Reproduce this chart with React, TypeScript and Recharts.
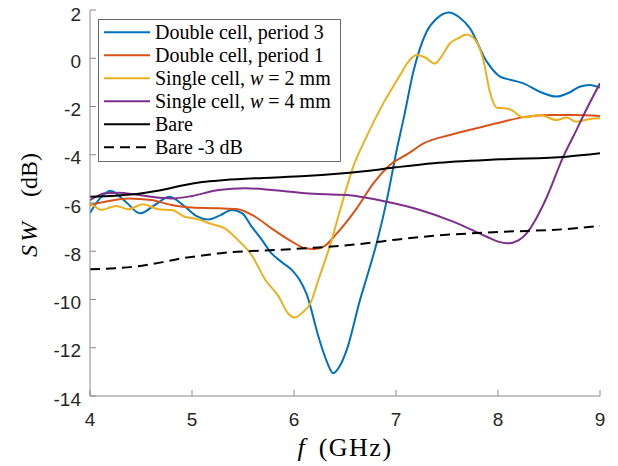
import React from 'react';
import { LineChart, Line, XAxis, YAxis, Legend } from 'recharts';

const xTicks = [4, 5, 6, 7, 8, 9];
const yTicks = [-14, -12, -10, -8, -6, -4, -2, 0, 2];

const fDouble3 = [4.0, 4.1, 4.2, 4.35, 4.49, 4.63, 4.78, 4.93, 5.05, 5.16, 5.28, 5.39, 5.49, 5.585, 5.68, 5.78, 5.88, 5.98, 6.05, 6.12, 6.25, 6.32, 6.385, 6.45, 6.517, 6.647, 6.73, 6.81, 6.91, 7.007, 7.08, 7.17, 7.3, 7.4, 7.52, 7.62, 7.725, 7.89, 8.02, 8.13, 8.25, 8.41, 8.575, 8.7, 8.8, 8.9, 9.0];
const sDouble3 = [-6.41, -5.8, -5.49, -5.95, -6.43, -6.1, -5.74, -6.15, -6.55, -6.68, -6.5, -6.29, -6.42, -6.98, -7.5, -8.09, -8.45, -8.78, -9.15, -9.74, -11.68, -12.55, -13.06, -12.75, -12.09, -10.02, -8.85, -7.67, -5.88, -3.8, -2.4, -0.56, 1.1, 1.65, 1.9, 1.7, 1.24, -0.14, -0.76, -0.9, -1.04, -1.39, -1.59, -1.42, -1.18, -1.11, -1.22];

const fDouble1 = [4.0, 4.15, 4.375, 4.6, 4.8, 5.0, 5.26, 5.45, 5.62, 5.78, 5.98, 6.11, 6.19, 6.29, 6.42, 6.615, 6.78, 6.94, 7.12, 7.27, 7.53, 7.79, 8.05, 8.28, 8.51, 8.75, 9.0];
const sDouble1 = [-6.08, -5.95, -5.81, -5.88, -6.08, -6.19, -6.22, -6.26, -6.57, -7.05, -7.6, -7.88, -7.91, -7.81, -7.26, -6.22, -5.18, -4.42, -3.95, -3.53, -3.18, -2.9, -2.63, -2.42, -2.35, -2.35, -2.39];

const fSingle2 = [4.0, 4.05, 4.11, 4.26, 4.375, 4.52, 4.67, 4.8, 4.93, 5.06, 5.19, 5.32, 5.45, 5.585, 5.72, 5.85, 5.94, 6.01, 6.08, 6.16, 6.25, 6.35, 6.48, 6.58, 6.68, 6.875, 7.04, 7.12, 7.2, 7.29, 7.38, 7.45, 7.53, 7.62, 7.69, 7.75, 7.8, 7.86, 7.92, 7.99, 8.05, 8.12, 8.25, 8.41, 8.575, 8.67, 8.77, 8.9, 9.0];
const sSingle2 = [-6.01, -6.15, -6.29, -6.12, -6.26, -6.05, -6.26, -6.29, -6.57, -6.68, -6.87, -7.05, -7.53, -8.16, -9.19, -9.88, -10.57, -10.75, -10.55, -10.16, -9.05, -7.81, -5.88, -4.5, -3.53, -1.87, -0.7, -0.15, 0.13, 0.02, -0.22, 0.1, 0.62, 0.85, 0.98, 0.88, 0.6, -0.14, -1.39, -2.05, -2.07, -2.12, -2.45, -2.35, -2.56, -2.46, -2.63, -2.52, -2.49];

const fSingle4 = [4.0, 4.15, 4.28, 4.45, 4.6, 4.8, 5.0, 5.26, 5.52, 5.78, 6.11, 6.52, 6.91, 7.235, 7.56, 7.89, 8.0, 8.1, 8.2, 8.28, 8.38, 8.48, 8.64, 8.77, 8.84, 9.0];
const sSingle4 = [-5.88, -5.6, -5.57, -5.65, -5.74, -5.81, -5.71, -5.46, -5.39, -5.46, -5.6, -5.67, -5.95, -6.29, -6.77, -7.4, -7.6, -7.67, -7.55, -7.26, -6.6, -5.74, -4.08, -2.97, -2.35, -1.04];

const fBare = [4.0, 4.25, 4.51, 4.75, 4.93, 5.1, 5.32, 5.7, 6.11, 6.71, 7.0, 7.37, 8.02, 8.67, 9.0];
const sBare = [-5.74, -5.7, -5.6, -5.42, -5.25, -5.13, -5.05, -4.96, -4.88, -4.67, -4.52, -4.35, -4.19, -4.08, -3.94];

const fBare3 = [4.0, 4.25, 4.51, 4.75, 4.93, 5.1, 5.32, 5.7, 6.11, 6.71, 7.0, 7.37, 8.02, 8.67, 9.0];
const sBare3 = [-8.75, -8.7, -8.6, -8.42, -8.27, -8.18, -8.06, -7.97, -7.88, -7.67, -7.52, -7.36, -7.2, -7.08, -6.95];

const seriesNames = [
  'Double cell, period 3',
  'Double cell, period 1',
  'Single cell, w = 2 mm',
  'Single cell, w = 4 mm',
  'Bare',
  'Bare -3 dB',
];
const seriesColors = ['#0072BD', '#D95319', '#EDB120', '#7E2F8E', '#000000', '#000000'];
const seriesDash = ['', '', '', '', '', '10 6'];

const zip = (f: number[], s: number[]) => f.map((x, i) => ({ f: x, v: s[i] }));

const seriesData = [
  zip(fDouble3, sDouble3),
  zip(fDouble1, sDouble1),
  zip(fSingle2, sSingle2),
  zip(fSingle4, sSingle4),
  zip(fBare, sBare),
  zip(fBare3, sBare3),
];

const AXIS = '#8a8a8a';
const TXT = '#262626';
const SERIF = "'Liberation Serif', 'DejaVu Serif', serif";
const SANS = "'Liberation Sans', Arial, Helvetica, sans-serif";

function legendText(name: string) {
  const m = name.match(/^(.*)\bw( = .*)$/);
  if (m) {
    return (
      <>
        {m[1]}
        <tspan fontStyle="italic">w</tspan>
        {m[2]}
      </>
    );
  }
  return name;
}

const LegendBox = () => (
  <div
    style={{
      width: 243,
      height: 143,
      border: '1px solid #6a6a6a',
      background: '#fff',
      boxSizing: 'border-box',
    }}
  >
    <svg width={241} height={141} style={{ display: 'block' }}>
      {seriesNames.map((n, i) => {
        const y = 12.3 + i * 23;
        return (
          <g key={n}>
            <line
              x1={5}
              x2={51}
              y1={y}
              y2={y}
              stroke={seriesColors[i]}
              strokeWidth={2}
              strokeDasharray={seriesDash[i] || undefined}
            />
            <text x={56} y={y + 6.5} style={{ fontFamily: SERIF, fontSize: 20 }} fill="#000" xmlSpace="preserve">
              {legendText(n)}
            </text>
          </g>
        );
      })}
    </svg>
  </div>
);

const YLabel = () => (
  <text
    transform="rotate(-90, 29, 205)"
    x={29}
    y={205}
    textAnchor="middle"
    dominantBaseline="central"
    style={{ fontFamily: SERIF, fontSize: 24 }}
    fill="#000"
  >
    <tspan fontStyle="italic" letterSpacing={3}>SW</tspan>
    <tspan dx={22}>(dB)</tspan>
  </text>
);

const XLabel = () => (
  <text x={345} y={456} textAnchor="middle" style={{ fontFamily: SERIF, fontSize: 26 }} fill="#000">
    <tspan fontStyle="italic">f</tspan>
    <tspan dx={14} letterSpacing={1.5}>(GHz)</tspan>
  </text>
);

export default function App() {
  return (
    <div style={{ position: 'absolute', left: 0, top: 0, width: 618, height: 466, background: '#fff' }}>
      <LineChart width={618} height={466} margin={{ top: 10, right: 18, bottom: 0, left: 0 }}>
        <XAxis
          xAxisId="b"
          dataKey="f"
          type="number"
          domain={[4, 9]}
          ticks={xTicks}
          allowDataOverflow
          orientation="bottom"
          height={70}
          stroke={AXIS}
          tickSize={-6}
          tickMargin={23}
          tick={{ fontSize: 19, fill: TXT, fontFamily: SANS }}
          label={<XLabel />}
        />
        <XAxis
          xAxisId="t"
          type="number"
          domain={[4, 9]}
          ticks={xTicks}
          allowDataOverflow
          orientation="top"
          height={0}
          stroke={AXIS}
          tickSize={-6}
          tick={false}
        />
        <YAxis
          yAxisId="l"
          type="number"
          domain={[-14, 2]}
          ticks={yTicks}
          allowDataOverflow
          orientation="left"
          width={90}
          stroke={AXIS}
          tickSize={-6}
          tickMargin={15}
          tick={{ fontSize: 19, fill: TXT, fontFamily: SANS, dy: 3 }}
          label={<YLabel />}
        />
        <YAxis
          yAxisId="r"
          type="number"
          domain={[-14, 2]}
          ticks={yTicks}
          allowDataOverflow
          orientation="right"
          width={0}
          stroke={AXIS}
          tickSize={-6}
          tick={false}
        />
        {seriesData.map((d, i) => (
          <Line
            key={seriesNames[i]}
            xAxisId="b"
            yAxisId="l"
            data={d}
            dataKey="v"
            name={seriesNames[i]}
            type="monotone"
            stroke={seriesColors[i]}
            strokeWidth={2}
            strokeDasharray={seriesDash[i] || undefined}
            dot={false}
            activeDot={false}
            isAnimationActive={false}
          />
        ))}
        <Legend
          layout="vertical"
          align="center"
          verticalAlign="middle"
          content={() => <LegendBox />}
          wrapperStyle={{ left: 98, top: 19, width: 243, height: 143 }}
        />
      </LineChart>
    </div>
  );
}
